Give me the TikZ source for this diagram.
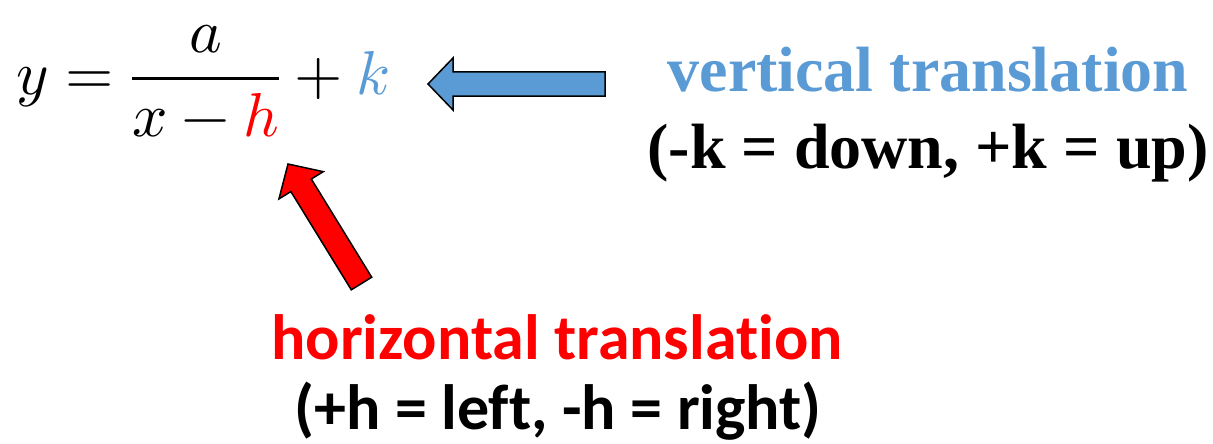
\documentclass[tikz,border=0pt]{standalone}
\usepackage{fontspec}
\usepackage{unicode-math}
\setmathfont{Latin Modern Math}
\usetikzlibrary{calc}
\newfontfamily\serifbold{Liberation Serif}
\newfontfamily\sansbold{Carlito}[Ligatures={NoCommon}]
\definecolor{KClr}{HTML}{5B9BD5}
\definecolor{HClr}{HTML}{FF0000}

\tikzset{
  serif label/.style={anchor=base, inner sep=0pt, font=\fontsize{64}{70}\serifbold\bfseries},
  sans label/.style={anchor=base, inner sep=0pt, font=\fontsize{64}{70}\sansbold\bfseries},
  block arrow/.style={draw=black, line width=1.5pt, line join=miter},
}

% block arrow from tail #2 to tip #3, filled with #1
\newcommand{\blockarrow}[3]{%
  \coordinate (hb) at ($(#3)!25pt!(#2)$);
  \filldraw[block arrow, fill=#1]
    ($(#2)!12pt!90:(#3)$) -- ($(hb)!12pt!90:(#3)$) -- ($(hb)!26pt!90:(#3)$)
    -- (#3) -- ($(hb)!26pt!-90:(#3)$) -- ($(hb)!12pt!-90:(#3)$)
    -- ($(#2)!12pt!-90:(#3)$) -- cycle;
}

\begin{document}
\begin{tikzpicture}[x=1pt,y=-1pt]
\useasboundingbox (0,0) rectangle (1213,444);

\node[anchor=base west, inner sep=0pt, font=\fontsize{62}{70}\selectfont] (eqn) at (16,94)
  {$\displaystyle y=\frac{a}{x-\textcolor{HClr}{h}}+\textcolor{KClr}{k}$};

\node[serif label, text=KClr] (vtitle) at (928,92) {vertical translation};
\node[serif label] (vnote) at (928,168) {(-k = down, +k = up)};

\node[sans label, text=HClr] (htitle) at (557,359) {horizontal translation};
\node[sans label] (hnote) at (558,429) {(+h = left, -h = right)};

\coordinate (ktail) at (605,84);
\coordinate (ktip) at (428,84);
\coordinate (htail) at (361.5,283.5);
\coordinate (htip) at (288,164);

\blockarrow{KClr}{ktail}{ktip}
\blockarrow{HClr}{htail}{htip}

\end{tikzpicture}
\end{document}
